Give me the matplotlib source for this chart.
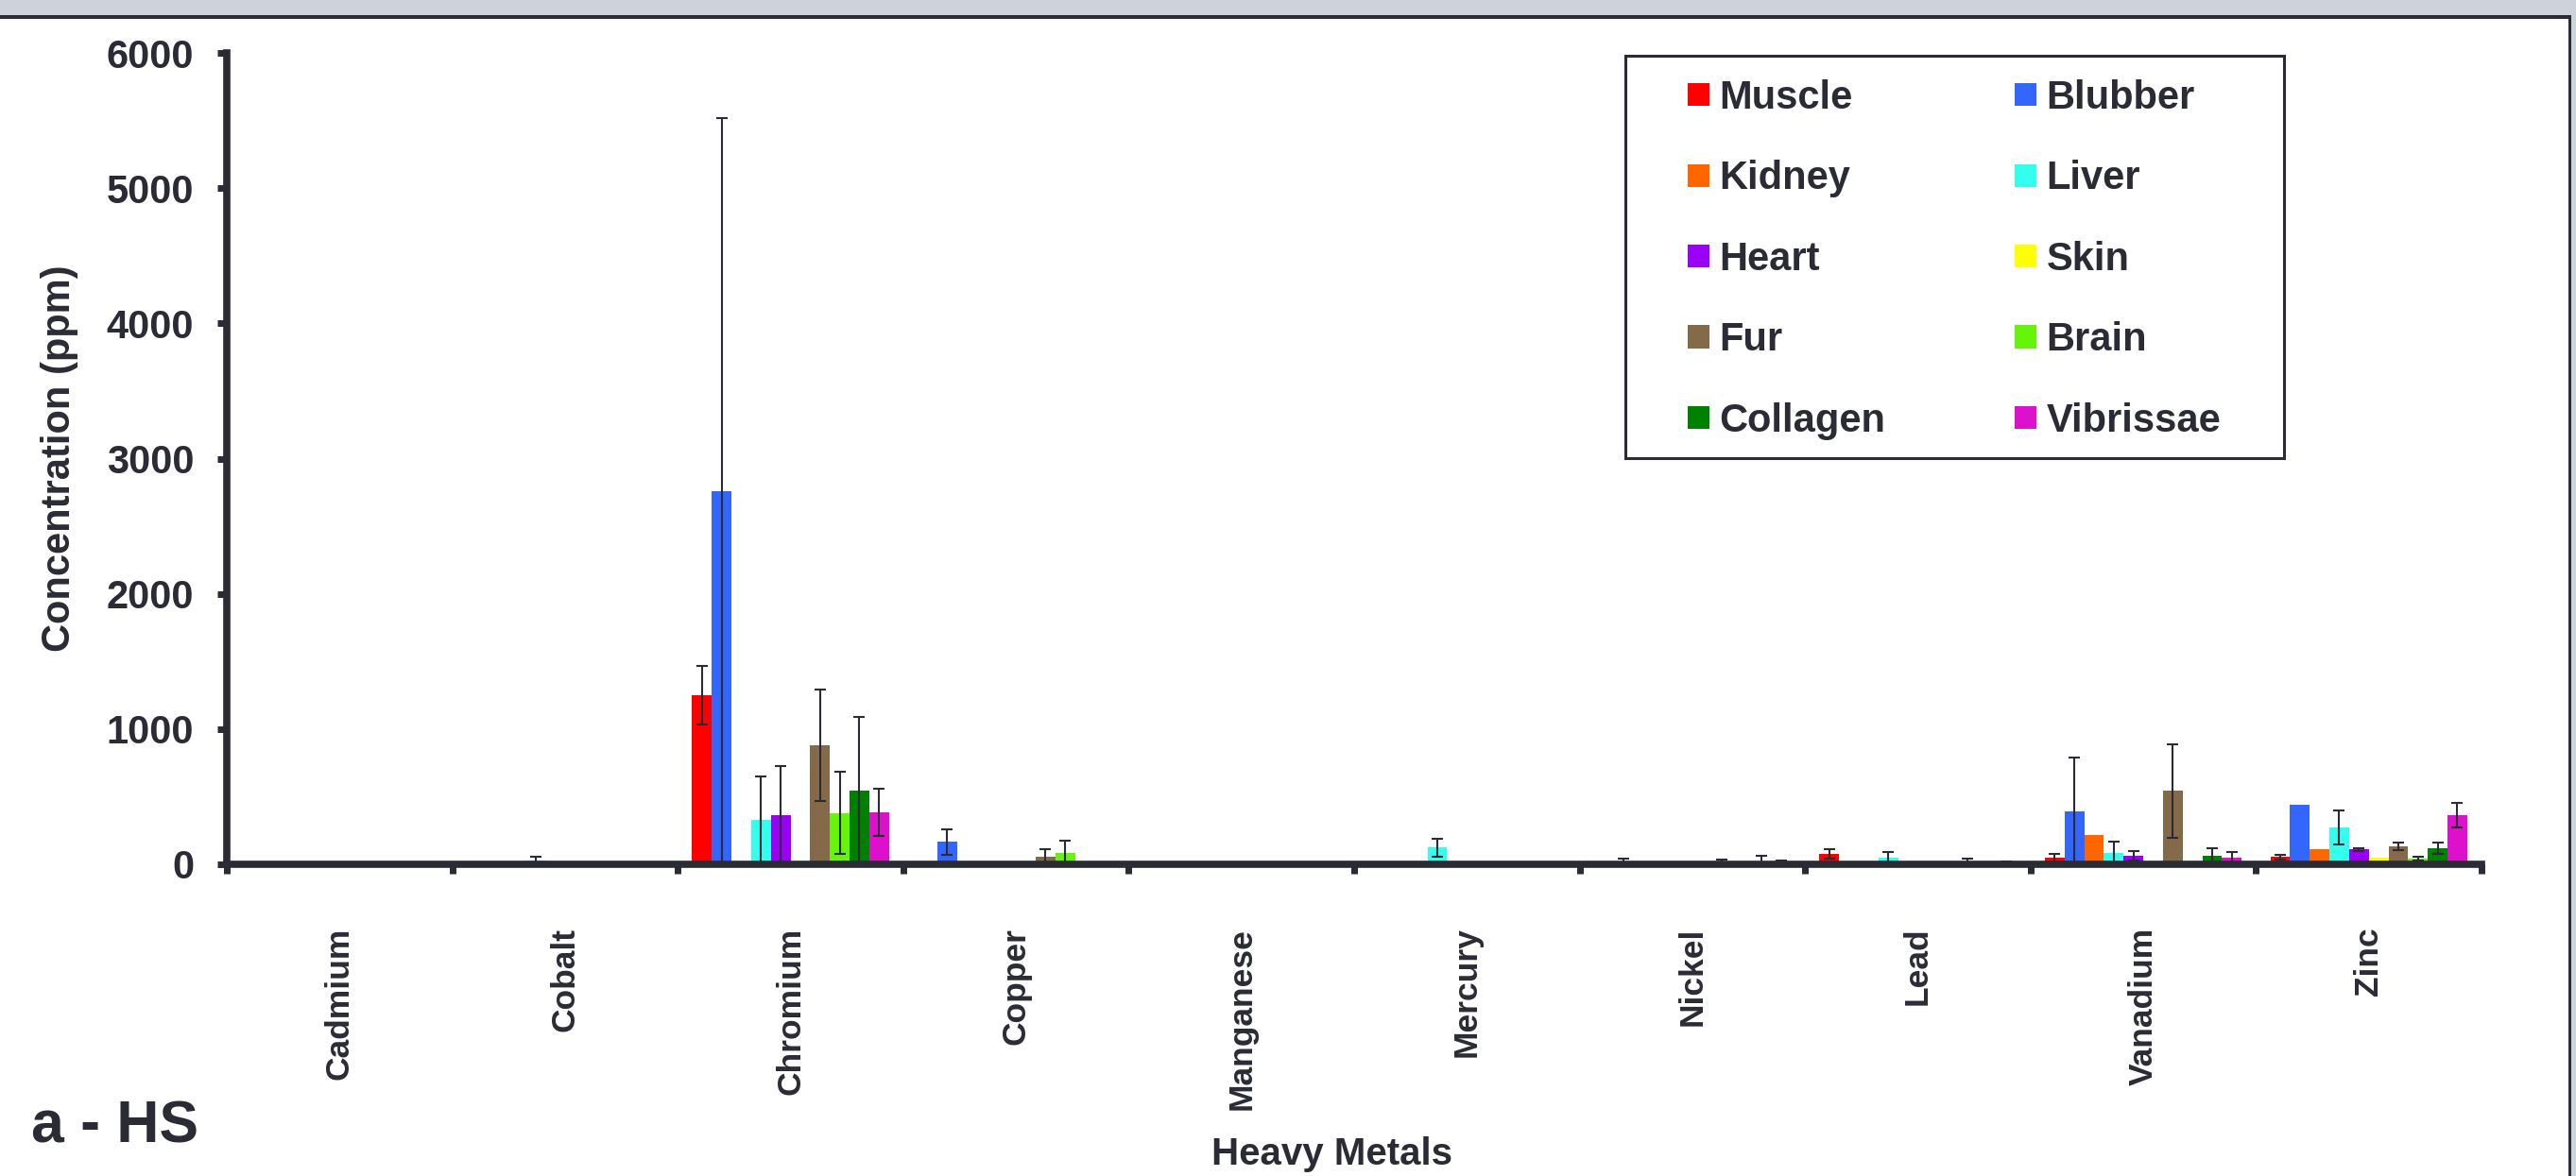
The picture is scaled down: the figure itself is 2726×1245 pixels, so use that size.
"""Grouped bar chart: heavy metal concentration per tissue (panel a - HS)."""

import matplotlib

matplotlib.use("Agg")

import matplotlib.patches as mpatches
import matplotlib.pyplot as plt
import numpy as np
from matplotlib.ticker import FixedLocator

W_PX, H_PX, DPI = 2726, 1245, 100
INK = "#2a2b35"

metals = ["Cadmium", "Cobalt", "Chromium", "Copper", "Manganese",
          "Mercury", "Nickel", "Lead", "Vanadium", "Zinc"]
tissues = ["Muscle", "Blubber", "Kidney", "Liver", "Heart",
           "Skin", "Fur", "Brain", "Collagen", "Vibrissae"]
colors = ["#ff0000", "#3366ff", "#ff6600", "#33ffee", "#9900f5",
          "#ffff00", "#856a4a", "#66f50a", "#008000", "#dd11cc"]

# mean concentration (ppm), one list per tissue, ordered as `metals`
muscle    = [0, 0, 1250, 0, 0, 0, 0, 77, 47, 54]
blubber   = [0, 0, 2760, 165, 0, 0, 5, 5, 393, 438]
kidney    = [0, 0, 0, 0, 0, 0, 0, 0, 219, 110]
liver     = [4, 30, 326, 0, 3, 123, 0, 49, 84, 272]
heart     = [3, 8, 365, 0, 0, 0, 0, 0, 63, 110]
skin      = [0, 0, 0, 0, 0, 0, 0, 0, 0, 49]
fur       = [0, 0, 878, 53, 0, 0, 10, 8, 543, 133]
brain     = [0, 0, 379, 86, 0, 0, 0, 15, 0, 44]
collagen  = [0, 0, 543, 0, 0, 0, 20, 0, 63, 121]
vibrissae = [0, 0, 384, 0, 0, 0, 15, 12, 47, 361]

# standard deviation (ppm)
muscle_sd    = [0, 0, 215, 0, 0, 0, 0, 32, 30, 18]
blubber_sd   = [0, 0, 2760, 93, 0, 0, 35, 0, 396, 0]
kidney_sd    = [0, 0, 0, 0, 0, 0, 0, 0, 0, 0]
liver_sd     = [0, 28, 326, 0, 0, 65, 0, 44, 86, 126]
heart_sd     = [0, 0, 363, 0, 0, 0, 0, 0, 37, 10]
skin_sd      = [0, 0, 0, 0, 0, 0, 0, 0, 0, 0]
fur_sd       = [0, 0, 413, 56, 0, 0, 27, 0, 344, 30]
brain_sd     = [0, 0, 305, 86, 0, 0, 0, 30, 0, 14]
collagen_sd  = [0, 0, 546, 0, 0, 0, 45, 0, 58, 43]
vibrissae_sd = [0, 0, 176, 0, 0, 0, 10, 12, 42, 92]

means = [muscle, blubber, kidney, liver, heart, skin, fur, brain,
         collagen, vibrissae]
sds = [muscle_sd, blubber_sd, kidney_sd, liver_sd, heart_sd, skin_sd,
       fur_sd, brain_sd, collagen_sd, vibrissae_sd]

yticks = [0, 1000, 2000, 3000, 4000, 5000, 6000]


def fx(px):
    return px / W_PX


def fy(px):
    # pixel row measured from the top -> figure fraction
    return 1 - px / H_PX


def render():
    plt.rcParams["font.family"] = ["Liberation Sans", "DejaVu Sans"]
    plt.rcParams["font.weight"] = "bold"

    fig = plt.figure(figsize=(W_PX / DPI, H_PX / DPI), dpi=DPI,
                     facecolor="white")

    # ---- window chrome (grey band + dark frame at top / right) ----------
    fig.add_artist(mpatches.Rectangle((0, fy(16)), 1, 16 / H_PX,
                   transform=fig.transFigure, facecolor="#cdd2db",
                   edgecolor="none"))
    fig.add_artist(mpatches.Rectangle((0, fy(20)), 1, 4 / H_PX,
                   transform=fig.transFigure, facecolor=INK,
                   edgecolor="none"))
    fig.add_artist(mpatches.Rectangle((fx(2721), 0), 5 / W_PX, fy(16),
                   transform=fig.transFigure, facecolor="#cdd2db",
                   edgecolor="none"))
    fig.add_artist(mpatches.Rectangle((fx(2718), 0), 3 / W_PX, fy(16),
                   transform=fig.transFigure, facecolor=INK,
                   edgecolor="none"))

    # ---- bars -------------------------------------------------------------
    ax = fig.add_axes([fx(240), fy(915), fx(2626) - fx(240),
                       fy(56) - fy(915)])
    x = np.arange(len(metals))
    n = len(tissues)
    width = 0.0872
    handles = []
    for i, (name, m, s, c) in enumerate(zip(tissues, means, sds, colors)):
        m = np.asarray(m, dtype=float)
        s = np.asarray(s, dtype=float)
        pos = x + (i - (n - 1) / 2) * width
        h = ax.bar(pos, m, width=width, color=c, edgecolor="none",
                   label=name, zorder=2)
        handles.append(h)
        mask = s > 0
        if mask.any():
            lower = np.minimum(s[mask], m[mask])
            ax.errorbar(pos[mask], m[mask], yerr=[lower, s[mask]],
                        fmt="none", ecolor=INK, elinewidth=1.5,
                        capsize=4.5, capthick=1.5, zorder=3)

    ax.set_xlim(-0.5, len(metals) - 0.5)
    ax.set_ylim(0, 6000)
    ax.set_yticks(yticks)
    ax.set_xticks(x)
    ax.set_xticklabels(metals, rotation=90, fontsize=25.5, fontweight="bold",
                       color=INK, va="top", ha="center")
    ax.xaxis.set_minor_locator(FixedLocator(np.arange(-0.5, len(metals), 1)))
    ax.tick_params(axis="x", which="major", length=0, pad=48)
    ax.tick_params(axis="x", which="minor", length=7, width=5, color=INK,
                   direction="out")
    ax.tick_params(axis="y", which="major", length=7, width=5, color=INK,
                   direction="out", pad=18, labelsize=30, labelcolor=INK)
    for lab in ax.get_yticklabels():
        lab.set_fontweight("bold")

    for side in ("top", "right"):
        ax.spines[side].set_visible(False)
    for side in ("left", "bottom"):
        ax.spines[side].set_linewidth(5.5)
        ax.spines[side].set_color(INK)
        ax.spines[side].set_zorder(4)

    ax.set_ylabel("Concentration (ppm)", fontsize=30, fontweight="bold",
                  color=INK)
    ax.yaxis.set_label_coords(-0.066, 0.5)

    fig.text(fx(1409), fy(1233), "Heavy Metals", ha="center",
             va="baseline", fontsize=29, fontweight="bold", color=INK)
    fig.text(fx(33), fy(1210), "a - HS", ha="left", va="baseline",
             fontsize=45, fontweight="bold", color=INK)

    # ---- legend (2 columns, filled row by row) ------------------------------
    order = [0, 2, 4, 6, 8, 1, 3, 5, 7, 9]
    leg = fig.legend([handles[k] for k in order],
                     [tissues[k] for k in order],
                     ncol=2, loc="upper left",
                     bbox_to_anchor=(fx(1786), fy(84)),
                     bbox_transform=fig.transFigure,
                     frameon=False, borderpad=0, borderaxespad=0,
                     fontsize=30, handlelength=0.55, handleheight=0.52,
                     handletextpad=0.25, labelspacing=1.09,
                     columnspacing=3.29)
    for t in leg.get_texts():
        t.set_color(INK)
        t.set_fontweight("bold")
    fig.add_artist(mpatches.Rectangle(
        (fx(1720), fy(485)), fx(2417) - fx(1720), fy(59) - fy(485),
        transform=fig.transFigure, facecolor="none", edgecolor=INK,
        lw=2.2))

    fig.savefig("out.png", dpi=DPI, facecolor="white")


if __name__ == "__main__":
    render()
